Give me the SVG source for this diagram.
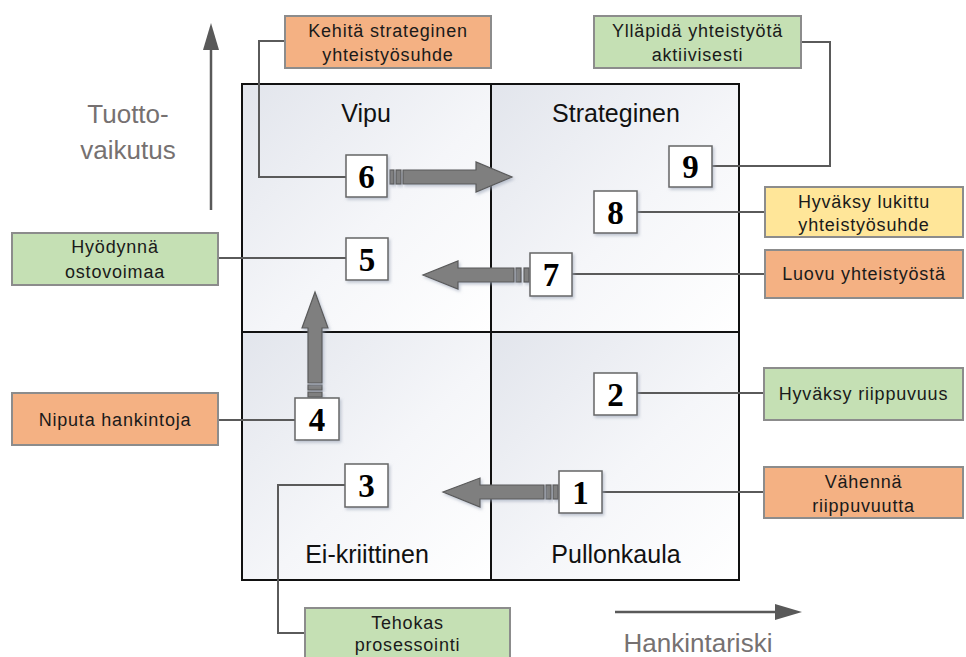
<svg xmlns="http://www.w3.org/2000/svg" width="966" height="657" viewBox="0 0 966 657">
  <style>
    .quad { stroke: none; }
    .grid { fill: none; stroke: #111; stroke-width: 2; }
    .qtitle { font-family: "Liberation Sans", Arial, sans-serif; font-size: 25px; fill: #111; text-anchor: middle; }
    .axis { stroke: #595959; stroke-width: 2.5; fill: none; }
    .axhead { fill: #595959; }
    .axlabel { font-family: "Liberation Sans", Arial, sans-serif; font-size: 26px; fill: #767171; text-anchor: middle; }
    .num { fill: #fff; stroke: #666; stroke-width: 1.5; filter: url(#shadow); }
    .numtxt { font-family: "Liberation Serif", "Times New Roman", serif; font-weight: bold; font-size: 33px; fill: #000; text-anchor: middle; }
    .lbl { stroke: #8c8c8c; stroke-width: 2; }
    .green { fill: #c5e0b4; }
    .orange { fill: #f4b183; }
    .yellow { fill: #ffe699; }
    .lbltxt { font-family: "Liberation Sans", Arial, sans-serif; font-size: 18px; letter-spacing: 0.8px; fill: #1a1a1a; text-anchor: middle; }
    .conn { fill: none; stroke: #5a5a5a; stroke-width: 2; }
    .blk { fill: #7f7f7f; stroke: #5a5a5a; stroke-width: 1.2; filter: url(#shadow); }
  </style>
  <defs>
    <linearGradient id="qfill" x1="0" y1="0" x2="1" y2="1">
      <stop offset="0" stop-color="#e2e5ec"/>
      <stop offset="0.55" stop-color="#f5f6f9"/>
      <stop offset="1" stop-color="#ffffff"/>
    </linearGradient>
    <filter id="shadow" x="-20%" y="-20%" width="150%" height="150%">
      <feDropShadow dx="1.5" dy="2" stdDeviation="1.5" flood-color="#9aa3b5" flood-opacity="0.6"/>
    </filter>
  </defs>

  <!-- portfolio matrix -->
  <g id="matrix">
    <rect class="quad" x="242" y="84" width="249" height="248" fill="url(#qfill)"/>
    <rect class="quad" x="491" y="84" width="248" height="248" fill="url(#qfill)"/>
    <rect class="quad" x="242" y="332" width="249" height="248" fill="url(#qfill)"/>
    <rect class="quad" x="491" y="332" width="248" height="248" fill="url(#qfill)"/>
    <rect class="grid" x="242" y="84" width="497" height="496"/>
    <line class="grid" x1="491" y1="84" x2="491" y2="580"/>
    <line class="grid" x1="242" y1="332" x2="739" y2="332"/>
    <text class="qtitle" x="366" y="122">Vipu</text>
    <text class="qtitle" x="616" y="122">Strateginen</text>
    <text class="qtitle" x="367" y="563">Ei-kriittinen</text>
    <text class="qtitle" x="616" y="563">Pullonkaula</text>
  </g>

  <!-- axes -->
  <g id="axis-y">
    <line class="axis" x1="211" y1="210" x2="211" y2="46"/>
    <polygon class="axhead" points="211,23 203,50 219,50"/>
    <text class="axlabel" x="128" y="123">Tuotto-</text>
    <text class="axlabel" x="128" y="159">vaikutus</text>
  </g>
  <g id="axis-x">
    <line class="axis" x1="615" y1="612" x2="778" y2="612"/>
    <polygon class="axhead" points="802,612 775,604 775,620"/>
    <text class="axlabel" x="698" y="652">Hankintariski</text>
  </g>

  <!-- connectors -->
  <g id="connectors">
    <polyline class="conn" points="285,41 259,41 259,177 346,177"/>
    <polyline class="conn" points="801,42 830,42 830,166 712,166"/>
    <line class="conn" x1="637" y1="212" x2="765" y2="212"/>
    <line class="conn" x1="572" y1="274" x2="765" y2="274"/>
    <line class="conn" x1="637" y1="393" x2="764" y2="393"/>
    <line class="conn" x1="602" y1="492" x2="764" y2="492"/>
    <line class="conn" x1="218" y1="258" x2="346" y2="258"/>
    <line class="conn" x1="218" y1="420" x2="295" y2="420"/>
    <polyline class="conn" points="345,485 278,485 278,633 305,633"/>
  </g>

  <!-- block arrows -->
  <g id="arrow-6-9">
    <rect class="blk" x="390" y="170" width="4" height="14"/>
    <rect class="blk" x="396" y="170" width="5" height="14"/>
    <polygon class="blk" points="403,170 476,170 476,162 512,177 476,192 476,184 403,184"/>
  </g>
  <g id="arrow-7-5">
    <rect class="blk" x="524" y="268" width="5" height="14"/>
    <rect class="blk" x="516" y="268" width="5" height="14"/>
    <polygon class="blk" points="514,268 458,268 458,261 423,275 458,289 458,282 514,282"/>
  </g>
  <g id="arrow-1-3">
    <rect class="blk" x="553" y="485" width="5" height="14"/>
    <rect class="blk" x="546" y="485" width="5" height="14"/>
    <polygon class="blk" points="544,485 480,485 480,478 443,492 480,507 480,499 544,499"/>
  </g>
  <g id="arrow-4-5">
    <rect class="blk" x="308" y="392" width="14" height="5"/>
    <rect class="blk" x="308" y="385" width="14" height="5"/>
    <polygon class="blk" points="308,383 308,328 302,328 315,292 328,328 322,328 322,383"/>
  </g>

  <!-- numbered positions -->
  <g id="n1"><rect class="num" x="559" y="471" width="43" height="42"/><text class="numtxt" x="580.5" y="504">1</text></g>
  <g id="n2"><rect class="num" x="594" y="373" width="43" height="42"/><text class="numtxt" x="615.5" y="406">2</text></g>
  <g id="n3"><rect class="num" x="345" y="464" width="43" height="43"/><text class="numtxt" x="366.5" y="497">3</text></g>
  <g id="n4"><rect class="num" x="295" y="398" width="44" height="42"/><text class="numtxt" x="317" y="431">4</text></g>
  <g id="n5"><rect class="num" x="346" y="238" width="42" height="42"/><text class="numtxt" x="367" y="271">5</text></g>
  <g id="n6"><rect class="num" x="346" y="155" width="41" height="42"/><text class="numtxt" x="366.5" y="188">6</text></g>
  <g id="n7"><rect class="num" x="530" y="253" width="42" height="43"/><text class="numtxt" x="551" y="286">7</text></g>
  <g id="n8"><rect class="num" x="594" y="191" width="43" height="42"/><text class="numtxt" x="615.5" y="224">8</text></g>
  <g id="n9"><rect class="num" x="669" y="146" width="43" height="41"/><text class="numtxt" x="690.5" y="178">9</text></g>

  <!-- strategy labels -->
  <g id="lbl-kehita">
    <rect class="lbl orange" x="285" y="16" width="206" height="52"/>
    <text class="lbltxt" x="388" y="37">Kehitä strateginen</text>
    <text class="lbltxt" x="388" y="61">yhteistyösuhde</text>
  </g>
  <g id="lbl-yllapida">
    <rect class="lbl green" x="594" y="16" width="207" height="52"/>
    <text class="lbltxt" x="697.5" y="37">Ylläpidä yhteistyötä</text>
    <text class="lbltxt" x="697.5" y="61">aktiivisesti</text>
  </g>
  <g id="lbl-hyvaksy-lukittu">
    <rect class="lbl yellow" x="765" y="187" width="198" height="50"/>
    <text class="lbltxt" x="864" y="208">Hyväksy lukittu</text>
    <text class="lbltxt" x="864" y="231">yhteistyösuhde</text>
  </g>
  <g id="lbl-luovu">
    <rect class="lbl orange" x="765" y="250" width="198" height="48"/>
    <text class="lbltxt" x="864" y="280">Luovu yhteistyöstä</text>
  </g>
  <g id="lbl-hyvaksy-riippuvuus">
    <rect class="lbl green" x="764" y="368" width="199" height="52"/>
    <text class="lbltxt" x="863.5" y="400">Hyväksy riippuvuus</text>
  </g>
  <g id="lbl-vahenna">
    <rect class="lbl orange" x="764" y="467" width="199" height="51"/>
    <text class="lbltxt" x="863.5" y="488">Vähennä</text>
    <text class="lbltxt" x="863.5" y="512">riippuvuutta</text>
  </g>
  <g id="lbl-hyodynna">
    <rect class="lbl green" x="12" y="233" width="206" height="52"/>
    <text class="lbltxt" x="115" y="253">Hyödynnä</text>
    <text class="lbltxt" x="115" y="278">ostovoimaa</text>
  </g>
  <g id="lbl-niputa">
    <rect class="lbl orange" x="12" y="393" width="206" height="52"/>
    <text class="lbltxt" x="115" y="426">Niputa hankintoja</text>
  </g>
  <g id="lbl-tehokas">
    <rect class="lbl green" x="305" y="608" width="205" height="60"/>
    <text class="lbltxt" x="407.5" y="629">Tehokas</text>
    <text class="lbltxt" x="407.5" y="651">prosessointi</text>
  </g>
</svg>
